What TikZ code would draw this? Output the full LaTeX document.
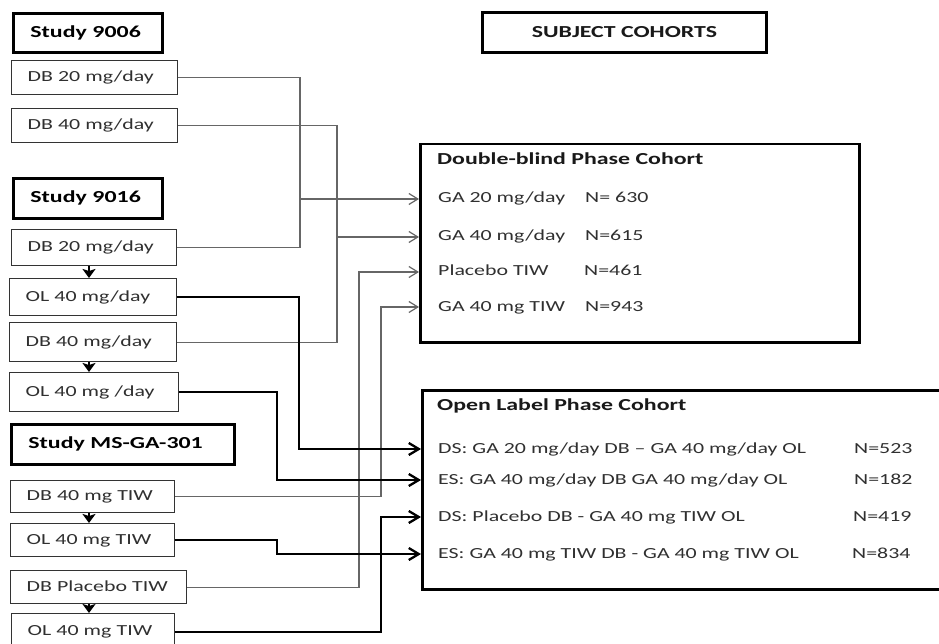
\documentclass[tikz,border=0pt]{standalone}
\usepackage{fontspec}
\setmainfont[FakeStretch=1.42]{Carlito}
\usepackage{xcolor}
\usetikzlibrary{positioning,arrows.meta}

\definecolor{linegray}{HTML}{666666}
\definecolor{boxgray}{HTML}{333333}
\definecolor{textgray}{HTML}{303030}

\begin{document}
\begin{tikzpicture}[
    x=1pt, y=-1pt,
    armbox/.style={
        rectangle,
        draw=boxgray,
        line width=1.3pt,
        anchor=north west,
        align=left,
        inner xsep=16pt,
        minimum height=35pt,
        text height=11pt,
        text depth=3pt,
        text=textgray,
        font=\fontsize{15.4}{18}\selectfont
    },
    studybox/.style={
        rectangle,
        draw,
        line width=2.8pt,
        anchor=north west,
        align=left,
        inner xsep=17pt,
        minimum height=39pt,
        font=\fontsize{16.8}{20}\selectfont\bfseries
    },
    cohortbox/.style={
        rectangle,
        draw,
        line width=2.5pt,
        anchor=north west
    },
    rowtext/.style={
        anchor=west,
        inner sep=0pt,
        text height=11pt,
        text depth=3pt,
        text=textgray,
        font=\fontsize{15.4}{18}\selectfont
    },
    titletext/.style={
        anchor=west,
        inner sep=0pt,
        text=black!90,
        font=\fontsize{16.8}{20}\selectfont\bfseries
    },
    dbline/.style={
        draw=linegray,
        line width=1.2pt
    },
    dbarrow/.style={
        dbline,
        -{Straight Barb[length=9pt,width=11pt]}
    },
    olarrow/.style={
        line width=2.3pt,
        -{Straight Barb[length=10pt,width=12pt]}
    },
    steparrow/.style={
        line width=2pt,
        -{Stealth[length=9pt,width=13pt,inset=2pt]}
    }
]

\fill[white] (0,0) rectangle (939,644);
\useasboundingbox (0,0) rectangle (939,644);

% Study 9006
\node[studybox, text width=115pt] (s9006) at (12,12) {Study 9006};
\node[armbox, text width=134pt, minimum height=34pt] (db20a) at (11,60) {DB 20 mg/day};
\node[armbox, text width=134pt, minimum height=34pt] (db40a) at (11,108) {DB 40 mg/day};

% Study 9016
\node[studybox, text width=115pt, minimum height=40pt] (s9016) at (12,177) {Study 9016};
\node[armbox, text width=133pt, minimum height=36pt] (db20b) at (11,229) {DB 20 mg/day};
\node[armbox, text width=135pt, minimum height=37pt] (ol40a) at (9,278) {OL 40 mg/day};
\node[armbox, text width=135pt, minimum height=39pt] (db40b) at (9,322) {DB 40 mg/day};
\node[armbox, text width=137pt, minimum height=39pt] (ol40b) at (9,372) {OL 40 mg /day};

% Study MS-GA-301
\node[studybox, text width=189pt, minimum height=40pt] (s301) at (10,423) {Study MS-GA-301};
\node[armbox, text width=132pt, minimum height=32pt] (db40t) at (10,480) {DB 40 mg TIW};
\node[armbox, text width=132pt, minimum height=33pt] (ol40t) at (10,523) {OL 40 mg TIW};
\node[armbox, text width=144pt, minimum height=33pt] (dbpt) at (10,570) {DB Placebo TIW};
\node[armbox, text width=131pt, minimum height=36pt] (ol40p) at (11,613) {OL 40 mg TIW};

% DB to OL steps
\coordinate (stepx) at (89,0);
\draw[steparrow] (stepx |- db20b.south) -- (stepx |- ol40a.north);
\draw[steparrow] (stepx |- db40b.south) -- (stepx |- ol40b.north);
\draw[steparrow] (stepx |- db40t.south) -- (stepx |- ol40t.north);
\draw[steparrow] (stepx |- dbpt.south) -- (stepx |- ol40p.north);

% Subject cohorts
\node[cohortbox, line width=2.8pt, minimum width=284pt, minimum height=40pt,
    font=\fontsize{16.8}{20}\selectfont\bfseries, text=black!90] (cohorts) at (481,11) {SUBJECT COHORTS};

% Double-blind cohort
\node[cohortbox, minimum width=439pt, minimum height=198pt] (dbc) at (419,143) {};
\node[titletext] (dbtitle) at (437,159) {Double-blind Phase Cohort};
\node[rowtext] (dbr1) at (438,199) {GA 20 mg/day};
\node[rowtext] (dbn1) at (585,199) {N= 630};
\node[rowtext] (dbr2) at (438,237) {GA 40 mg/day};
\node[rowtext] (dbn2) at (585,237) {N=615};
\node[rowtext] (dbr3) at (438,272) {Placebo TIW};
\node[rowtext] (dbn3) at (584,272) {N=461};
\node[rowtext] (dbr4) at (438,307) {GA 40 mg TIW};
\node[rowtext] (dbn4) at (585,307) {N=943};

% Open label cohort
\node[cohortbox, minimum width=540pt, minimum height=199pt] (olc) at (421,389) {};
\node[titletext] (oltitle) at (437,406) {Open Label Phase Cohort};
\node[rowtext] (olr1) at (438,449) {DS: GA 20 mg/day DB – GA 40 mg/day OL};
\node[rowtext] (oln1) at (854,449) {N=523};
\node[rowtext] (olr2) at (438,480) {ES: GA 40 mg/day DB GA 40 mg/day OL};
\node[rowtext] (oln2) at (854,480) {N=182};
\node[rowtext] (olr3) at (438,517) {DS: Placebo DB - GA 40 mg TIW OL};
\node[rowtext] (oln3) at (853,517) {N=419};
\node[rowtext] (olr4) at (438,554) {ES: GA 40 mg TIW DB - GA 40 mg TIW OL};
\node[rowtext] (oln4) at (852,554) {N=834};

% Bus lines
\coordinate (bus20) at (300,0);
\coordinate (bus40) at (337,0);
\coordinate (busP) at (359,0);
\coordinate (busT) at (381,0);
\coordinate (busA) at (299,0);
\coordinate (busB) at (277,0);

% Double-blind connections
\draw[dbline] (db20a.east) -| (bus20 |- db20b.east) -- (db20b.east);
\draw[dbarrow] (bus20 |- dbr1) -- (dbc.west |- dbr1);
\draw[dbline] (db40a.east) -| (bus40 |- db40b.east) -- (db40b.east);
\draw[dbarrow] (bus40 |- dbr2) -- (dbc.west |- dbr2);
\draw[dbarrow] (dbpt.east) -| (busP |- dbr3) -- (dbc.west |- dbr3);
\draw[dbarrow] (db40t.east) -| (busT |- dbr4) -- (dbc.west |- dbr4);

% Open label connections
\draw[olarrow] (ol40a.east) -| (busA |- olr1) -- (olc.west |- olr1);
\draw[olarrow] (ol40b.east) -| (busB |- olr2) -- (olc.west |- olr2);
\draw[olarrow] (ol40t.east) -| (busB |- olr4) -- (olc.west |- olr4);
\draw[olarrow] (ol40p.east) -| (busT |- olr3) -- (olc.west |- olr3);

\end{tikzpicture}
\end{document}
